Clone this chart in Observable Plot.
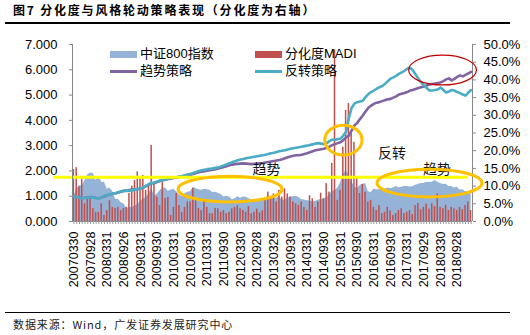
<!DOCTYPE html>
<html><head><meta charset="utf-8">
<script src="https://cdn.jsdelivr.net/npm/d3@7"></script>
<script src="https://cdn.jsdelivr.net/npm/@observablehq/plot@0.6"></script>
<style>
body{margin:0;background:#fff;}
#wrap{position:relative;width:530px;height:335px;overflow:hidden;font-family:"Liberation Sans","Noto Sans CJK SC",sans-serif;color:#000;}
#wrap svg{position:absolute;left:0;top:0;}
.abs{position:absolute;white-space:nowrap;}
#title{left:13px;top:2px;font-family:"Noto Sans CJK SC","Liberation Sans",sans-serif;font-size:12px;font-weight:bold;letter-spacing:1.8px;line-height:16px;}
.hline{position:absolute;left:5px;width:505px;background:#000;}
#caption{left:13px;top:316px;font-family:"Noto Sans CJK SC","Liberation Sans",sans-serif;font-size:11px;letter-spacing:0.9px;line-height:16px;color:#222;}
.lg{font-family:"Liberation Sans","Noto Sans CJK SC",sans-serif;font-size:13px;line-height:16px;}
</style></head>
<body>
<div id="wrap">
  <div id="chart"></div>
  <div class="abs" id="title">图7 分化度与风格轮动策略表现（分化度为右轴）</div>
  <div class="hline" style="top:22px;height:1.5px;"></div>
  <div class="hline" style="top:311.5px;height:1.5px;"></div>
  <div class="abs" id="caption">数据来源：Wind，广发证券发展研究中心</div>
  <div id="legend"></div>
</div>
<script>
// ---- data (monthly, 2007-03 .. 2019-02) ----
const xTickLabels = ["20070330","20070928","20080331","20080926","20090331","20090930","20100331","20100930","20110331","20110930","20120330","20120928","20130329","20130930","20140331","20140930","20150331","20150930","20160331","20160930","20170331","20170929","20180330","20180928"];
const leftTicks = [0,1,2,3,4,5,6,7];
const rightTicks = [0,5,10,15,20,25,30,35,40,45,50];

// 中证800指数 (left axis)
const csi800 = [
1.00,1.28,1.42,1.40,1.62,1.85,1.92,1.90,1.62,1.78,
1.55,1.55,1.28,1.32,1.18,0.88,0.88,0.74,0.70,0.50,0.56,0.55,
0.62,0.66,0.80,0.88,0.95,1.10,1.30,1.02,1.08,1.22,1.32,1.32,
1.20,1.25,1.28,1.18,1.05,0.98,1.10,1.16,1.18,1.35,1.30,1.26,
1.24,1.28,1.26,1.24,1.15,1.16,1.12,1.07,0.97,1.00,0.97,0.86,
0.90,0.98,0.92,0.97,0.96,0.90,0.85,0.82,0.85,0.84,0.82,0.93,
1.00,0.98,0.93,0.92,0.98,0.84,0.86,0.92,0.97,0.98,1.00,0.95,
0.86,0.85,0.82,0.80,0.78,0.79,0.85,0.86,0.90,0.94,1.05,1.20,
1.22,1.32,1.52,1.85,2.02,1.85,1.58,1.38,1.30,1.42,1.46,1.50,
1.18,1.15,1.28,1.26,1.26,1.27,1.28,1.32,1.30,1.32,1.38,1.33,
1.35,1.38,1.38,1.36,1.37,1.43,1.46,1.50,1.50,1.55,1.54,1.55,
1.62,1.55,1.50,1.46,1.47,1.38,1.38,1.32,1.35,1.25,1.26,1.18,
1.18,1.15];

// 趋势策略 (left axis)
const trend = [
1.00,0.97,0.95,0.93,0.94,0.96,0.97,0.95,0.93,0.92,
0.95,1.00,1.04,1.07,1.10,1.12,1.15,1.18,1.21,1.22,1.24,1.26,
1.27,1.28,1.30,1.34,1.40,1.46,1.50,1.52,1.56,1.60,1.63,1.65,
1.68,1.70,1.72,1.74,1.76,1.78,1.80,1.82,1.85,1.88,1.92,1.95,
1.97,1.99,2.01,2.03,2.05,2.07,2.10,2.13,2.16,2.19,2.22,2.25,
2.27,2.28,2.29,2.30,2.29,2.28,2.27,2.28,2.29,2.30,2.31,2.33,
2.35,2.37,2.39,2.41,2.43,2.46,2.50,2.54,2.57,2.60,2.62,2.62,
2.64,2.67,2.70,2.74,2.78,2.82,2.84,2.86,2.88,2.92,2.96,3.02,
3.06,3.10,3.13,3.22,3.33,3.40,3.60,3.80,3.90,4.05,4.19,4.35,
4.50,4.58,4.65,4.70,4.72,4.76,4.80,4.83,4.85,4.90,4.95,5.02,
5.05,5.08,5.12,5.18,5.20,5.24,5.28,5.31,5.34,5.38,5.42,5.44,
5.46,5.48,5.50,5.55,5.62,5.66,5.58,5.64,5.72,5.78,5.74,5.80,
5.86,5.92];

// 反转策略 (left axis)
const reversal = [
1.00,0.97,0.94,0.92,0.93,0.95,0.96,0.94,0.92,0.91,
0.95,1.02,1.05,1.08,1.10,1.12,1.16,1.20,1.22,1.21,1.22,1.23,
1.26,1.28,1.30,1.36,1.42,1.48,1.52,1.54,1.58,1.62,1.64,1.66,
1.70,1.72,1.75,1.76,1.78,1.80,1.83,1.86,1.88,1.92,1.96,2.00,
2.03,2.05,2.07,2.08,2.10,2.12,2.14,2.18,2.22,2.26,2.30,2.35,
2.38,2.42,2.45,2.47,2.50,2.52,2.54,2.56,2.58,2.60,2.62,2.64,
2.67,2.70,2.72,2.75,2.78,2.80,2.82,2.85,2.88,2.90,2.92,2.94,
2.96,2.98,3.00,3.03,3.05,3.08,3.10,3.08,3.06,3.10,3.18,3.24,
3.22,3.26,3.28,3.40,3.55,4.10,4.50,4.66,4.72,4.75,4.78,4.92,
5.04,5.12,5.18,5.25,5.31,5.36,5.44,5.55,5.65,5.70,5.76,5.84,
5.90,5.96,6.04,6.08,5.98,5.82,5.65,5.50,5.38,5.28,5.18,5.18,
5.20,5.22,5.30,5.20,5.10,5.14,5.20,5.18,5.12,5.08,5.02,4.98,
5.10,5.20];

// 分化度MADI (right axis, %)
const madi = [
14.7,15.2,9.7,12.0,5.0,6.5,6.5,3.7,2.6,2.6,
5.0,1.7,3.1,5.9,4.0,3.7,4.0,3.1,3.7,4.0,7.9,10.0,
11.6,14.0,12.0,13.0,8.8,10.0,21.5,10.7,6.9,4.5,11.0,6.5,
6.8,1.7,4.0,7.9,4.5,2.6,4.0,5.5,5.5,9.3,6.5,3.7,
3.1,5.9,4.0,2.2,2.2,3.7,3.6,2.6,3.1,2.2,2.6,3.6,
4.0,4.5,3.6,3.1,2.6,4.2,2.2,2.6,3.5,2.4,3.0,5.9,
8.3,6.9,7.8,5.5,8.8,6.9,9.2,7.8,6.9,5.5,5.0,4.5,
5.5,4.0,3.1,7.3,6.4,4.0,5.5,8.0,6.4,10.7,8.3,16.4,
48.5,6.0,8.8,21.0,31.4,33.3,24.8,22.4,12.5,7.9,10.5,8.3,
5.5,6.0,4.0,3.1,4.5,2.2,2.6,4.0,3.0,1.7,2.2,3.1,
3.6,2.2,2.6,3.1,2.0,4.5,5.1,3.3,4.0,4.9,3.5,5.0,
4.2,7.8,4.0,3.6,4.6,3.1,4.0,3.6,3.1,4.0,3.3,4.5,
5.5,3.1];

// annotations, in data units (month index, left-axis value)
const yellowLine = {level: 1.75, from: -7.3, to: 142};
const orangeEllipses = [
  {cx: 56.4, cy: 1.26, rx: 18.7, ry: 0.51},
  {cx: 97.2, cy: 3.20, rx: 6.7, ry: 0.59},
  {cx: 128.2, cy: 1.50, rx: 18.9, ry: 0.55}
];
const redEllipse = {cx: 132.9, cy: 5.97, rx: 12.2, ry: 0.59};
const notes = [
  {x: 69.3, y: 2.07, text: "趋势"},
  {x: 114.5, y: 2.67, text: "反转"},
  {x: 130.7, y: 2.07, text: "趋势"}
];

const pctToLeft = 7 / 50;
const idx = csi800.map((_, i) => i);
const labelIdx = xTickLabels.map((_, k) => k * 6);

const font = '"Liberation Sans","Noto Sans CJK SC",sans-serif';
const chart = Plot.plot({
  width: 530, height: 335,
  marginLeft: 72, marginRight: 58, marginTop: 44, marginBottom: 114,
  style: {background: "transparent", fontFamily: font, fontSize: "13px", color: "#000", overflow: "visible"},
  x: {type: "linear", domain: [-0.5, 143.5]},
  y: {domain: [0, 7]},
  marks: [
    Plot.areaY(csi800, {x: (d, i) => i, y: d => d, fill: "#95B3D7"}),
    Plot.rect(madi, {x1: (d, i) => i - 0.27, x2: (d, i) => i + 0.27, y1: 0, y2: d => d * pctToLeft, fill: "#C0504D"}),
    Plot.lineY(trend, {x: (d, i) => i, y: d => d, stroke: "#8064A2", strokeWidth: 2.6}),
    Plot.lineY(reversal, {x: (d, i) => i, y: d => d, stroke: "#4BACC6", strokeWidth: 2.6}),
    Plot.ruleY([yellowLine.level], {x1: yellowLine.from, x2: yellowLine.to, stroke: "#FFFF00", strokeWidth: 3}),
    Plot.text(notes, {x: "x", y: "y", text: "text", fontSize: 14, fill: "#111", fontFamily: '"Noto Sans CJK SC",sans-serif'}),
    Plot.ruleX([-0.5, 143.5], {stroke: "#888"}),
    Plot.ruleY([0], {stroke: "#888"}),
    Plot.ruleX(idx, {x: d => d, y1: 0, y2: -0.12, stroke: "#999"}),
    Plot.axisY(leftTicks, {anchor: "left", tickSize: 3, tickPadding: 12, tickFormat: d => d.toFixed(3), fontSize: 13, stroke: "#888", fill: "#000", label: null}),
    Plot.axisY(rightTicks.map(p => p * pctToLeft), {anchor: "right", tickSize: 3, tickPadding: 8, tickFormat: d => (d / pctToLeft).toFixed(1) + "%", fontSize: 13, stroke: "#888", fill: "#000", label: null}),
    Plot.axisX(labelIdx, {anchor: "bottom", tickSize: 0, tickPadding: 10, tickRotate: -90, tickFormat: d => xTickLabels[Math.round(d / 6)], fontSize: 12.5, fill: "#000", label: null})
  ]
});
document.getElementById("chart").appendChild(chart);

// ellipse annotations placed through the plot's own scales
const sx = chart.scale("x"), sy = chart.scale("y");
const svg = d3.select(chart);
function addEllipse(e, stroke, w) {
  const cx = sx.apply(e.cx), cy = sy.apply(e.cy);
  svg.append("ellipse")
    .attr("cx", cx).attr("cy", cy)
    .attr("rx", Math.abs(sx.apply(e.cx + e.rx) - cx))
    .attr("ry", Math.abs(sy.apply(e.cy + e.ry) - cy))
    .attr("fill", "none").attr("stroke", stroke).attr("stroke-width", w);
}
orangeEllipses.forEach(e => addEllipse(e, "#FFC000", 3));
addEllipse(redEllipse, "#C00000", 1.2);

// legend
const legendItems = [
  {label: "中证800指数", color: "#95B3D7", kind: "rect", left: 110, top: 54},
  {label: "分化度MADI", color: "#C0504D", kind: "rect", left: 255, top: 54},
  {label: "趋势策略", color: "#8064A2", kind: "line", left: 110, top: 71},
  {label: "反转策略", color: "#4BACC6", kind: "line", left: 255, top: 71}
];
const lg = document.getElementById("legend");
legendItems.forEach(it => {
  const sw = document.createElement("div");
  sw.className = "abs";
  const h = it.kind === "rect" ? 7 : 3;
  sw.style.cssText = `left:${it.left}px;top:${it.top - h / 2}px;width:27px;height:${h}px;background:${it.color};`;
  lg.appendChild(sw);
  const t = document.createElement("div");
  t.className = "abs lg";
  t.textContent = it.label;
  t.style.left = (it.left + 30) + "px";
  t.style.top = (it.top - 8) + "px";
  lg.appendChild(t);
});
</script>
</body></html>
